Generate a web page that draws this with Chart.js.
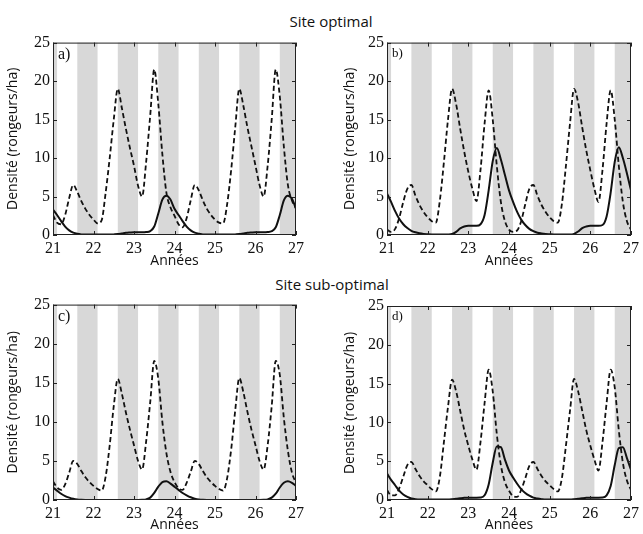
<!DOCTYPE html>
<html>
<head>
<meta charset="utf-8">
<script src="https://cdn.jsdelivr.net/npm/chart.js@4.4.1/dist/chart.umd.min.js"></script>
<style>
  body { margin: 0; background: #fff; width: 643px; height: 534px; position: relative; overflow: hidden; }
  .panel { position: absolute; }
  .suptitle { position: absolute; font-family: 'Open Sans', sans-serif; font-size: 15px; color: #111; transform: translate(-50%, -50%); white-space: nowrap; }
</style>
</head>
<body>
<div class="suptitle" style="left:331px; top:21px;">Site optimal</div>
<div class="suptitle" style="left:332px; top:284px;">Site sub-optimal</div>
<div class="panel" style="left:0; top:30px; width:310px; height:240px;"><canvas id="chartA"></canvas></div>
<div class="panel" style="left:320px; top:30px; width:323px; height:240px;"><canvas id="chartB"></canvas></div>
<div class="panel" style="left:0; top:292px; width:310px; height:242px;"><canvas id="chartC"></canvas></div>
<div class="panel" style="left:320px; top:292px; width:323px; height:242px;"><canvas id="chartD"></canvas></div>
<script>
// Years (x values, 0.1 year step)
const years = [
  21.0, 21.1, 21.2, 21.3, 21.4, 21.5, 21.6, 21.7, 21.8, 21.9,
  22.0, 22.1, 22.2, 22.3, 22.4, 22.5, 22.6, 22.7, 22.8, 22.9,
  23.0, 23.1, 23.2, 23.3, 23.4, 23.5, 23.6, 23.7, 23.8, 23.9,
  24.0, 24.1, 24.2, 24.3, 24.4, 24.5, 24.6, 24.7, 24.8, 24.9,
  25.0, 25.1, 25.2, 25.3, 25.4, 25.5, 25.6, 25.7, 25.8, 25.9,
  26.0, 26.1, 26.2, 26.3, 26.4, 26.5, 26.6, 26.7, 26.8, 26.9,
  27.0
];

// Shaded seasons (start / end in years)
const bandStarts = [20.6, 21.6, 22.6, 23.6, 24.6, 25.6, 26.6];
const bandEnds = [21.1, 22.1, 23.1, 24.1, 25.1, 26.1, 27.1];

const xTicks = [21, 22, 23, 24, 25, 26, 27];
const yTicks = [0, 5, 10, 15, 20, 25];

// a) Site optimal
const aDashed = [
  2.6, 1.6, 1.4, 2.6, 4.8, 6.5, 5.6, 4.4, 3.4, 2.6,
  2.0, 1.5, 1.9, 5.5, 10.0, 15.0, 19.0, 16.5, 13.8, 11.3,
  9.0, 6.4, 5.0, 9.5, 15.5, 21.5, 17.0, 10.5, 5.5, 3.6,
  2.5, 1.4, 1.0, 2.2, 4.5, 6.5, 5.8, 4.5, 3.4, 2.6,
  2.0, 1.6, 1.5, 4.0, 8.5, 14.0, 19.0, 16.8, 14.0, 11.5,
  9.0, 6.5, 5.0, 9.0, 15.0, 21.5, 18.0, 11.5, 6.5, 4.5,
  3.5
];
const aSolid = [
  3.3, 2.6, 1.8, 1.1, 0.6, 0.3, 0.15, 0.08, 0.05, 0.05,
  0.05, 0.05, 0.05, 0.05, 0.05, 0.08, 0.12, 0.2, 0.28, 0.32,
  0.35, 0.35, 0.35, 0.38, 0.5, 1.1, 2.8, 4.6, 5.1, 4.6,
  3.4, 2.6, 1.8, 1.1, 0.6, 0.3, 0.15, 0.08, 0.05, 0.05,
  0.05, 0.05, 0.05, 0.05, 0.05, 0.08, 0.12, 0.2, 0.28, 0.32,
  0.35, 0.35, 0.35, 0.38, 0.5, 1.0, 2.6, 4.5, 5.1, 4.7,
  3.4
];

// b) Site optimal
const bDashed = [
  0.7, 0.4, 0.8, 2.2, 4.3, 6.0, 6.5, 5.1, 3.9, 3.0,
  2.3, 1.8, 1.6, 4.5, 9.5, 15.0, 19.0, 17.0, 13.8, 10.8,
  8.2, 6.0, 4.4, 8.5, 14.5, 18.8, 15.0, 9.0, 4.3, 1.8,
  0.7, 0.4, 0.6, 1.8, 4.0, 6.0, 6.5, 5.1, 3.9, 3.0,
  2.3, 1.8, 1.6, 4.0, 9.0, 14.5, 19.0, 17.2, 14.0, 11.0,
  8.4, 6.0, 4.3, 8.5, 14.5, 18.8, 15.0, 9.0, 4.3, 1.8,
  0.7
];
const bSolid = [
  5.4, 4.3, 3.1, 2.1, 1.4, 0.9, 0.55, 0.35, 0.22, 0.14,
  0.1, 0.07, 0.05, 0.05, 0.05, 0.06, 0.12, 0.4, 0.85, 1.1,
  1.2, 1.2, 1.2, 1.4, 2.6, 5.8, 9.6, 11.3, 9.8, 7.8,
  5.8, 4.3, 3.0, 2.0, 1.3, 0.8, 0.5, 0.3, 0.2, 0.13,
  0.1, 0.07, 0.05, 0.05, 0.05, 0.06, 0.15, 0.45, 0.9, 1.1,
  1.2, 1.2, 1.2, 1.3, 2.4, 5.5, 9.5, 11.4, 10.0, 8.0,
  5.8
];

// c) Site sub-optimal
const cDashed = [
  2.4, 1.6, 1.3, 2.0, 3.5, 5.0, 4.6, 3.7, 2.9, 2.3,
  1.8, 1.4, 1.2, 3.0, 7.0, 12.0, 15.5, 13.6, 11.2, 9.0,
  7.0, 5.0, 3.9, 7.5, 12.5, 17.8, 15.5, 10.0, 6.0, 3.6,
  2.3, 1.5, 1.3, 2.2, 3.6, 5.0, 4.6, 3.7, 2.9, 2.3,
  1.8, 1.4, 1.2, 2.8, 6.5, 11.5, 15.6, 13.8, 11.3, 9.0,
  7.0, 5.0, 3.9, 7.0, 12.0, 17.8, 16.0, 10.5, 6.3, 3.5,
  2.2
];
const cSolid = [
  1.6, 1.2, 0.8, 0.5, 0.3, 0.15, 0.06, 0.02, 0, 0,
  0, 0, 0, 0, 0, 0, 0, 0, 0, 0,
  0, 0, 0.02, 0.08, 0.3, 0.9, 1.7, 2.3, 2.4, 2.1,
  1.7, 1.3, 0.9, 0.6, 0.35, 0.18, 0.07, 0.02, 0, 0,
  0, 0, 0, 0, 0, 0, 0, 0, 0, 0,
  0, 0, 0.02, 0.08, 0.3, 0.8, 1.6, 2.2, 2.4, 2.2,
  1.8
];

// d) Site sub-optimal
const dDashed = [
  1.3, 0.6, 0.6, 1.5, 3.0, 4.5, 4.9, 4.0, 3.1, 2.4,
  1.9, 1.4, 1.1, 3.0, 7.5, 12.0, 15.5, 14.0, 11.5, 9.0,
  7.0, 5.2, 3.9, 7.5, 12.5, 16.8, 14.0, 8.5, 4.5, 2.3,
  1.2, 0.5, 0.4, 1.3, 2.8, 4.4, 4.9, 4.0, 3.1, 2.4,
  1.9, 1.4, 1.1, 2.8, 7.0, 11.5, 15.6, 14.0, 11.5, 9.0,
  7.0, 5.2, 3.8, 7.5, 12.5, 16.8, 14.5, 9.0, 4.8, 2.5,
  1.3
];
const dSolid = [
  3.4, 2.6, 1.9, 1.2, 0.7, 0.4, 0.2, 0.1, 0.05, 0.05,
  0.05, 0.05, 0.05, 0.05, 0.05, 0.06, 0.1, 0.15, 0.22, 0.28,
  0.3, 0.3, 0.3, 0.32, 0.6, 2.0, 4.8, 6.9, 6.8, 5.2,
  3.8, 2.9, 2.1, 1.4, 0.9, 0.55, 0.3, 0.18, 0.1, 0.05,
  0.05, 0.05, 0.05, 0.05, 0.05, 0.06, 0.1, 0.15, 0.22, 0.28,
  0.3, 0.3, 0.3, 0.32, 0.6, 1.8, 4.5, 6.7, 6.8, 5.4,
  3.9
];

const serif = "'Liberation Serif', 'Times New Roman', serif";
const sans = "'Open Sans', 'Liberation Sans', sans-serif";

// grey seasonal bands behind the curves
const bandsPlugin = {
  id: 'bands',
  beforeDatasetsDraw(chart) {
    const { ctx, chartArea, scales } = chart;
    ctx.save();
    ctx.fillStyle = '#d8d8d8';
    bandStarts.forEach((s, i) => {
      const x1 = Math.max(chartArea.left, scales.x.getPixelForValue(s));
      const x2 = Math.min(chartArea.right, scales.x.getPixelForValue(bandEnds[i]));
      if (x2 > x1) ctx.fillRect(x1, chartArea.top, x2 - x1, chartArea.bottom - chartArea.top);
    });
    ctx.restore();
  }
};

// matlab-style box with inward ticks and panel letter
const framePlugin = {
  id: 'frame',
  afterDatasetsDraw(chart, args, opts) {
    const { ctx, chartArea: ca, scales } = chart;
    const t = 4;
    ctx.save();
    ctx.strokeStyle = '#222';
    ctx.lineWidth = 1;
    ctx.strokeRect(ca.left + 0.5, ca.top + 0.5, ca.right - ca.left - 1, ca.bottom - ca.top - 1);
    ctx.beginPath();
    xTicks.forEach((v) => {
      const x = Math.round(scales.x.getPixelForValue(v)) + 0.5;
      ctx.moveTo(x, ca.bottom); ctx.lineTo(x, ca.bottom - t);
      ctx.moveTo(x, ca.top); ctx.lineTo(x, ca.top + t);
    });
    yTicks.forEach((v) => {
      const y = Math.round(scales.y.getPixelForValue(v)) + 0.5;
      ctx.moveTo(ca.left, y); ctx.lineTo(ca.left + t, y);
      ctx.moveTo(ca.right, y); ctx.lineTo(ca.right - t, y);
    });
    ctx.stroke();
    ctx.fillStyle = '#111';
    ctx.font = opts.size + 'px ' + serif;
    ctx.textBaseline = 'top';
    ctx.fillText(opts.label, ca.left + opts.dx, ca.top + opts.dy);
    ctx.restore();
  }
};

function makePanel(id, label, dashed, solid, geo) {
  const toPoints = (arr) => years.map((x, i) => ({ x: x, y: arr[i] }));
  return new Chart(document.getElementById(id), {
    type: 'line',
    data: {
      datasets: [
        {
          data: toPoints(dashed),
          borderColor: '#111',
          borderWidth: 1.8,
          borderDash: [5, 3],
          pointRadius: 0,
          cubicInterpolationMode: 'monotone',
        },
        {
          data: toPoints(solid),
          borderColor: '#111',
          borderWidth: 2,
          pointRadius: 0,
          cubicInterpolationMode: 'monotone',
        },
      ],
    },
    options: {
      responsive: true,
      maintainAspectRatio: false,
      animation: false,
      layout: { padding: { left: 0, right: geo.right, top: geo.top, bottom: 0 } },
      scales: {
        x: {
          type: 'linear',
          min: 21,
          max: 27,
          grid: { display: false, drawTicks: false },
          border: { display: false },
          ticks: { stepSize: 1, color: '#111', padding: 4, font: { family: serif, size: 16 } },
          title: { display: true, text: 'Années', color: '#111', padding: { top: 0, bottom: 1 }, font: { family: sans, size: 14 } },
          afterFit: (scale) => { scale.height = geo.xh; },
        },
        y: {
          min: 0,
          max: 25,
          grid: { display: false, drawTicks: false },
          border: { display: false },
          ticks: { stepSize: 5, color: '#111', padding: 3, font: { family: serif, size: 16 } },
          title: { display: true, text: 'Densité (rongeurs/ha)', color: '#111', padding: { top: geo.tp, bottom: 0 }, font: { family: sans, size: 14 } },
          afterFit: (scale) => { scale.width = geo.yw; },
        },
      },
      plugins: {
        legend: { display: false },
        tooltip: { enabled: false },
        frame: { label: label, size: geo.ls, dx: 5, dy: 4 },
      },
    },
    plugins: [bandsPlugin, framePlugin],
  });
}

makePanel('chartA', 'a)', aDashed, aSolid, { right: 14, top: 12, xh: 35, yw: 53, tp: 5, ls: 16 });
makePanel('chartB', 'b)', bDashed, bSolid, { right: 11, top: 12, xh: 35, yw: 67, tp: 22, ls: 13 });
makePanel('chartC', 'c)', cDashed, cSolid, { right: 14, top: 12, xh: 34, yw: 53, tp: 5, ls: 16 });
makePanel('chartD', 'd)', dDashed, dSolid, { right: 11, top: 14, xh: 34, yw: 67, tp: 22, ls: 13 });
</script>
</body>
</html>
